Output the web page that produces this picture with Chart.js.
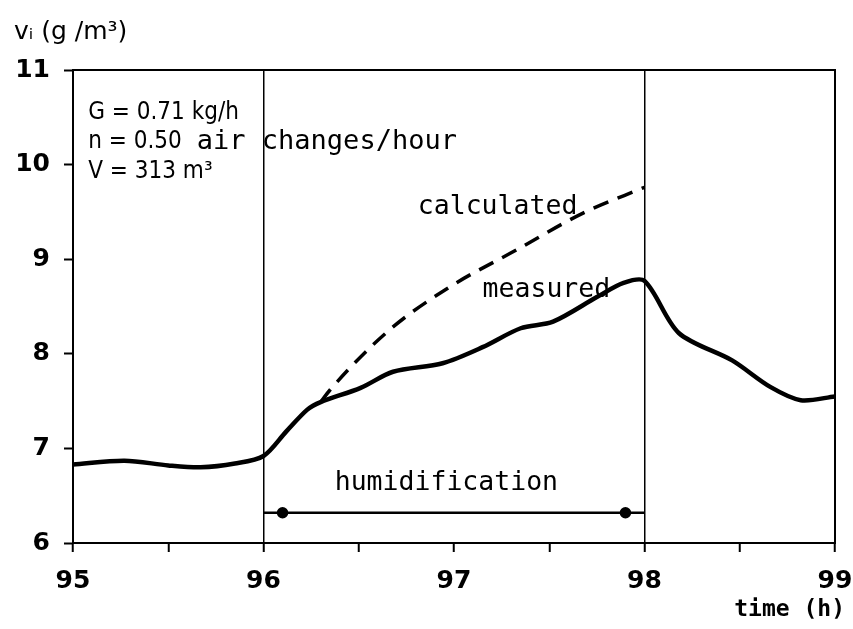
<!DOCTYPE html>
<html>
<head>
<meta charset="utf-8">
<script src="https://cdn.jsdelivr.net/npm/chart.js@4/dist/chart.umd.min.js"></script>
<style>
html,body{margin:0;padding:0;background:#fff;}
#wrap{width:853px;height:629px;}
</style>
</head>
<body>
<div id="wrap"><canvas id="humidChart"></canvas></div>
<script>

const measuredTime = [95.0, 95.27, 95.5, 95.67, 95.85, 96.0, 96.12, 96.23, 96.3, 96.51, 96.68, 96.94, 97.15, 97.35, 97.52, 97.75, 97.89, 98.0, 98.18, 98.46, 98.66, 98.82, 99.0];
const measuredVal  = [6.83, 6.87, 6.82, 6.80, 6.84, 6.92, 7.18, 7.41, 7.49, 7.64, 7.81, 7.90, 8.07, 8.27, 8.34, 8.60, 8.75, 8.77, 8.22, 7.93, 7.65, 7.51, 7.55];

const calcTime = [96.3, 96.35, 96.66, 96.98, 97.33, 97.68, 98.0];
const calcVal  = [7.49, 7.62, 8.25, 8.71, 9.10, 9.49, 9.76];

const humidTime = [96.0, 96.1, 97.9, 98.0];
const humidVal  = [6.32, 6.32, 6.32, 6.32];

const xTickLabels = [95, 96, 97, 98, 99];
const yTickLabels = [6, 7, 8, 9, 10, 11];
const markerLines = [96, 98];

function toPoints(xs, ys){
    return xs.map((x,i)=>({x:x, y:ys[i]}));
}

const textPlugin = {
    id:"textPlugin",
    afterDraw(chart){

        const ctx = chart.ctx;
        const xs = chart.scales.x;
        const ys = chart.scales.y;
        const area = chart.chartArea;

        ctx.save();
        ctx.strokeStyle = "#000";
        ctx.lineWidth = 2;
        ctx.strokeRect(area.left, area.top, area.right-area.left, area.bottom-area.top);

        ctx.fillStyle = "#000";
        ctx.textBaseline = "middle";

        // y axis title
        ctx.textAlign = "left";
        ctx.font = "25px 'DejaVu Sans'";
        ctx.fillText("vᵢ (g /m³)", 14, 32);

        // parameter box
        ctx.font = "24px 'DejaVu Sans Condensed', 'DejaVu Sans'";
        ctx.fillText("G = 0.71 kg/h", xs.getPixelForValue(95.08), ys.getPixelForValue(10.55));
        ctx.fillText("n = 0.50", xs.getPixelForValue(95.08), ys.getPixelForValue(10.24));
        ctx.fillText("V = 313 m³", xs.getPixelForValue(95.08), ys.getPixelForValue(9.92));
        ctx.font = "27px 'DejaVu Sans Mono'";
        ctx.fillText("air changes/hour", xs.getPixelForValue(95.65), ys.getPixelForValue(10.24));

        ctx.font = "26.5px 'DejaVu Sans Mono'";
        ctx.fillText("calculated", xs.getPixelForValue(96.81), ys.getPixelForValue(9.55));
        ctx.fillText("measured", xs.getPixelForValue(97.15), ys.getPixelForValue(8.67));

        ctx.textAlign = "center";
        ctx.fillText("humidification", xs.getPixelForValue(96.96), ys.getPixelForValue(6.63));

        ctx.textAlign = "right";
        ctx.font = "bold 23px 'DejaVu Sans Mono'";
        ctx.fillText("time (h)", area.right+10, area.bottom+67);

        ctx.restore();
    }
};

new Chart(
    document.getElementById("humidChart"),
    {
        type:"line",
        data:{
            datasets:[
                {
                    label:"measured",
                    data:toPoints(measuredTime, measuredVal),
                    borderColor:"#000",
                    borderWidth:4.5,
                    pointRadius:0,
                    tension:0.3
                },
                {
                    label:"calculated",
                    data:toPoints(calcTime, calcVal),
                    borderColor:"#000",
                    borderWidth:3.5,
                    borderDash:[16,10],
                    pointRadius:0,
                    cubicInterpolationMode:"monotone"
                },
                {
                    label:"humidification",
                    data:toPoints(humidTime, humidVal),
                    borderColor:"#000",
                    backgroundColor:"#000",
                    borderWidth:2.5,
                    pointRadius:[0,4.5,4.5,0],
                    pointStyle:"circle"
                }
            ]
        },
        options:{
            responsive:true,
            maintainAspectRatio:false,
            animation:false,
            layout:{
                padding:{top:70, right:18, left:0, bottom:0}
            },
            plugins:{
                legend:{display:false},
                tooltip:{enabled:false}
            },
            scales:{
                x:{
                    type:"linear",
                    min:95,
                    max:99,
                    afterFit(scale){
                        scale.height = 86;
                        scale.paddingLeft = 0;
                        scale.paddingRight = 0;
                    },
                    afterBuildTicks(scale){
                        const t = [];
                        for(let v=95; v<=99.001; v+=0.5){ t.push({value:v}); }
                        scale.ticks = t;
                    },
                    border:{display:true, color:"#000", width:2},
                    grid:{
                        drawOnChartArea:true,
                        color:c => markerLines.includes(c.tick && c.tick.value) ? "#000" : "rgba(0,0,0,0)",
                        lineWidth:1.5,
                        tickColor:"#000",
                        tickLength:9,
                        tickWidth:2
                    },
                    ticks:{
                        autoSkip:false,
                        maxRotation:0,
                        padding:14,
                        color:"#000",
                        font:{family:"DejaVu Sans", size:25, weight:"bold"},
                        callback:v => xTickLabels.includes(v) ? String(v) : ""
                    }
                },
                y:{
                    type:"linear",
                    min:6,
                    max:11,
                    afterFit(scale){
                        scale.width = 73;
                        scale.paddingTop = 0;
                        scale.paddingBottom = 0;
                    },
                    afterBuildTicks(scale){
                        scale.ticks = yTickLabels.map(v=>({value:v}));
                    },
                    border:{display:true, color:"#000", width:2},
                    grid:{
                        drawOnChartArea:false,
                        tickColor:"#000",
                        tickLength:9,
                        tickWidth:2
                    },
                    ticks:{
                        padding:14,
                        color:"#000",
                        font:{family:"DejaVu Sans", size:25, weight:"bold"}
                    }
                }
            }
        },
        plugins:[textPlugin]
    }
);

</script>
</body>
</html>
